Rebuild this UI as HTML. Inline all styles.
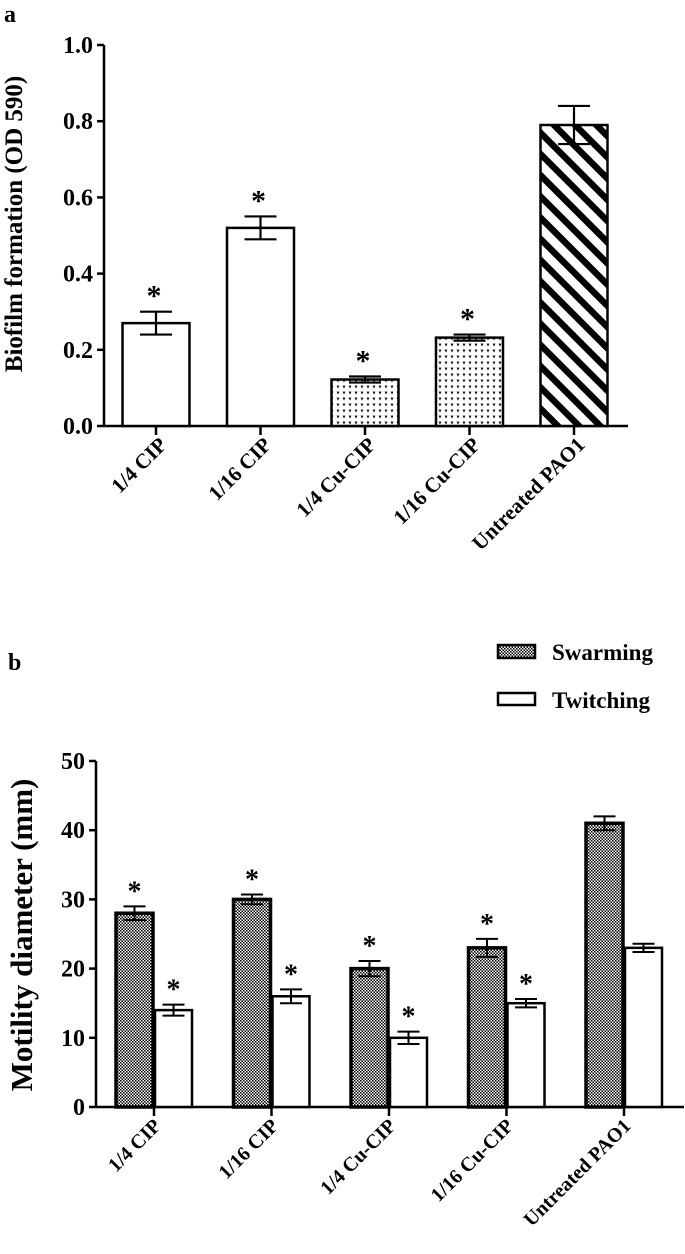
<!DOCTYPE html>
<html><head><meta charset="utf-8"><style>
html,body{margin:0;padding:0;background:#fff;}
svg{display:block;font-family:"Liberation Serif",serif;font-weight:bold;}
</style></head><body>
<svg width="685" height="1254" viewBox="0 0 685 1254">
<defs>
<pattern id="dots" width="6" height="6" patternUnits="userSpaceOnUse">
<rect width="6" height="6" fill="#fff"/><path d="M1 1.5 L2 3.5 L3 1.5" stroke="#000" stroke-width="0.9" fill="none"/>
</pattern>
<pattern id="stripes" width="15" height="15" patternUnits="userSpaceOnUse" patternTransform="rotate(-45)">
<rect width="15" height="15" fill="#fff"/><rect width="6.5" height="15" fill="#000"/>
</pattern>
<pattern id="check" width="3" height="3" patternUnits="userSpaceOnUse">
<rect width="3" height="3" fill="#fff"/><rect width="1.5" height="1.5" fill="#000"/><rect x="1.5" y="1.5" width="1.5" height="1.5" fill="#000"/>
</pattern>
</defs>
<text x="4" y="22" font-size="24">a</text>
<text x="8" y="670" font-size="24">b</text>
<g id="chartA"></g>
<g id="chartB"></g>
<g>
<rect x="498" y="645" width="37" height="13" fill="url(#check)" stroke="#000" stroke-width="2.5"/>
<text x="552" y="660" font-size="23">Swarming</text>
<rect x="498" y="693" width="37" height="12" fill="#fff" stroke="#000" stroke-width="2.5"/>
<text x="552" y="708" font-size="23">Twitching</text>
</g>
</svg>
<script>
const catsA = ["1/4 CIP","1/16 CIP","1/4 Cu-CIP","1/16 Cu-CIP","Untreated PAO1"];
const valsA = [0.27,0.52,0.122,0.232,0.79];
const errA = [0.03,0.03,0.008,0.008,0.05];
const sigA = [true,true,true,true,false];
const fillsA = ["#fff","#fff","url(#dots)","url(#dots)","url(#stripes)"];
const ticksA = ["0.0","0.2","0.4","0.6","0.8","1.0"];

const catsB = ["1/4 CIP","1/16 CIP","1/4 Cu-CIP","1/16 Cu-CIP","Untreated PAO1"];
const swarm = [28,30,20,23,41];
const swarmErr = [1,0.7,1.1,1.3,1];
const twitch = [14,16,10,15,23];
const twitchErr = [0.8,1,0.9,0.6,0.6];
const sigSwarm = [true,true,true,true,false];
const sigTwitch = [true,true,true,true,false];
const ticksB = ["0","10","20","30","40","50"];

const NS="http://www.w3.org/2000/svg";
function mk(parent,tag,attrs,text){const e=document.createElementNS(NS,tag);for(const k in attrs)e.setAttribute(k,attrs[k]);if(text!==undefined)e.textContent=text;parent.appendChild(e);return e;}

// Chart A
(function(){
const g=document.getElementById('chartA');
const x0=104,x1=628,y0=426,yTop=45;
const y=v=>y0-(v/1.0)*(y0-yTop);
const cx=i=>156+i*104.5;
const bw=67;
let e=mk(g,'line',{x1:x0,y1:yTop,x2:x0,y2:y0,stroke:'#000','stroke-width':2.5});

e=mk(g,'line',{x1:x0,y1:y0,x2:x1,y2:y0,stroke:'#000','stroke-width':2.5});

ticksA.forEach(t=>{const yy=y(parseFloat(t));
mk(g,'line',{x1:x0-7,y1:yy,x2:x0,y2:yy,stroke:'#000','stroke-width':2.5});
e=mk(g,'text',{x:x0-11,y:yy+8,'font-size':24,'text-anchor':'end'},t);
});
e=mk(g,'text',{x:0,y:0,'font-size':25,'text-anchor':'middle',transform:'translate(22,224) rotate(-90)'},'Biofilm formation (OD 590)');

catsA.forEach((c,i)=>{const c0=cx(i);
mk(g,'line',{x1:c0,y1:y0,x2:c0,y2:y0+9,stroke:'#000','stroke-width':2.5});
e=mk(g,'rect',{x:c0-bw/2,y:y(valsA[i]),width:bw,height:y0-y(valsA[i]),fill:fillsA[i],stroke:'#000','stroke-width':2.5});

const ya=y(valsA[i]+errA[i]),yb=y(valsA[i]-errA[i]);
mk(g,'path',{d:`M${c0} ${ya}V${yb}M${c0-16} ${ya}H${c0+16}M${c0-16} ${yb}H${c0+16}`,stroke:'#000','stroke-width':2.2,fill:'none'});
if(sigA[i]){e=mk(g,'text',{x:c0-2,y:ya-6,'font-size':30,'text-anchor':'middle'},'*');
}
e=mk(g,'text',{x:0,y:0,'font-size':21,'text-anchor':'end',transform:`translate(${c0+12},${y0+20}) rotate(-45)`},c);
});
})();

// Chart B
(function(){
const g=document.getElementById('chartB');
const x0=96,x1=684,y0=1107,yTop=761;
const y=v=>y0-(v/50)*(y0-yTop);
const cx=i=>154+i*117.5;
const bw=37;
let e=mk(g,'line',{x1:x0,y1:yTop,x2:x0,y2:y0,stroke:'#000','stroke-width':2.5});

e=mk(g,'line',{x1:x0,y1:y0,x2:x1,y2:y0,stroke:'#000','stroke-width':2.5});

ticksB.forEach(t=>{const yy=y(parseFloat(t));
mk(g,'line',{x1:x0-7,y1:yy,x2:x0,y2:yy,stroke:'#000','stroke-width':2.5});
e=mk(g,'text',{x:x0-11,y:yy+8,'font-size':24,'text-anchor':'end'},t);
});
e=mk(g,'text',{x:0,y:0,'font-size':31,'text-anchor':'middle',transform:'translate(32,935) rotate(-90)'},'Motility diameter (mm)');

function bar(xl,v,er,fill,sig,name,sw){
e=mk(g,'rect',{x:xl,y:y(v),width:bw,height:y0-y(v),fill:fill,stroke:'#000','stroke-width':sw});

const c0=xl+bw/2,ya=y(v+er),yb=y(v-er);
mk(g,'path',{d:`M${c0} ${ya}V${yb}M${c0-11} ${ya}H${c0+11}M${c0-11} ${yb}H${c0+11}`,stroke:'#000','stroke-width':2,fill:'none'});
if(sig){e=mk(g,'text',{x:c0,y:ya-6,'font-size':28,'text-anchor':'middle'},'*');
}
}
catsB.forEach((c,i)=>{const c0=cx(i);
mk(g,'line',{x1:c0,y1:y0,x2:c0,y2:y0+9,stroke:'#000','stroke-width':2.5});
bar(c0-bw-1,swarm[i],swarmErr[i],'url(#check)',sigSwarm[i],'bar-swarming-'+i,3.5);
bar(c0+1,twitch[i],twitchErr[i],'#fff',sigTwitch[i],'bar-twitching-'+i,2.5);
e=mk(g,'text',{x:0,y:0,'font-size':20,'text-anchor':'end',transform:`translate(${c0+8},${y0+20}) rotate(-45)`},c);
});
})();
</script>
</body></html>
